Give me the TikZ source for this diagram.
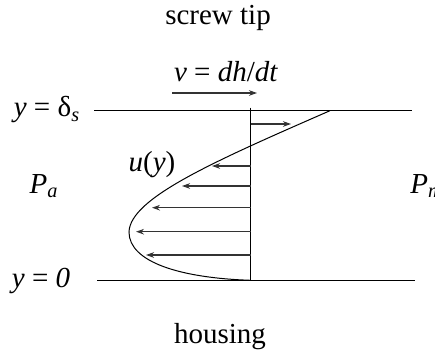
\documentclass[tikz,border=0pt]{standalone}
\usepackage{fontspec}
\setmainfont{Liberation Serif}
\usepackage{tikz}
\usetikzlibrary{arrows.meta, positioning}
\tikzset{
    label/.style={inner sep=0pt, font=\fontsize{14.5}{16}\selectfont},
    wall/.style={line width=0.6pt, draw=black},
    flowarrow/.style={-{Stealth[length=4pt, width=2.8pt]}, line width=0.6pt, draw=black!80},
    profile/.style={line width=0.5pt, draw=black},
}

\begin{document}
\begin{tikzpicture}[x=0.5pt, y=-0.5pt]
    \useasboundingbox (0,0) rectangle (435,353);

    % labels
    \node[label] (tip) at (218,18) {screw tip};
    \node[label] (speed) at (226,72) {\textit{v} = \textit{dh}/\textit{dt}};
    \node[label] (ytop) at (47,110) {\textit{y} = δ\textsubscript{\textit{s}}};
    \node[label] (ybot) at (41,281) {\textit{y} = \textit{0}};
    \node[label] (pa) at (44,186) {\textit{P}\textsubscript{\textit{a}}};
    \node[label, anchor=west] (pm) at (410,186) {\textit{P}\textsubscript{\textit{m}}};
    \node[label] (uy) at (152,165) {\textit{u}(\textit{y})};
    \node[label] (housing) at (220,337) {housing};

    % walls and axis
    \coordinate (tl) at (94,110.7);
    \coordinate (tr) at (412,110.7);
    \coordinate (bl) at (97,280.3);
    \coordinate (br) at (415,280.3);
    \coordinate (axtop) at (250.7,107.7);
    \coordinate (axbot) at (250.7,280.3);
    \draw[wall] (tl) -- (tr);
    \draw[wall] (bl) -- (br);
    \draw[wall] (axtop) -- (axbot);

    % wall speed
    \coordinate (vs) at (172,93);
    \coordinate (ve) at (257,93);
    \draw[flowarrow] (vs) -- (ve);

    % velocity profile
    \coordinate (nose) at (129,232);
    \coordinate (lip) at (330,110.7);
    \draw[profile] (axbot) .. controls (180,278) and (129,262) .. (nose)
        .. controls (130,198) and (215,161) .. (lip);

    % velocity arrows
    \draw[flowarrow] (250.7,124) -- (291,124);
    \foreach \yy/\xx in {166/212, 186/182, 207.7/152, 231.7/136, 255/146}
        \draw[flowarrow] (250.7,\yy) -- (\xx,\yy);
\end{tikzpicture}
\end{document}
